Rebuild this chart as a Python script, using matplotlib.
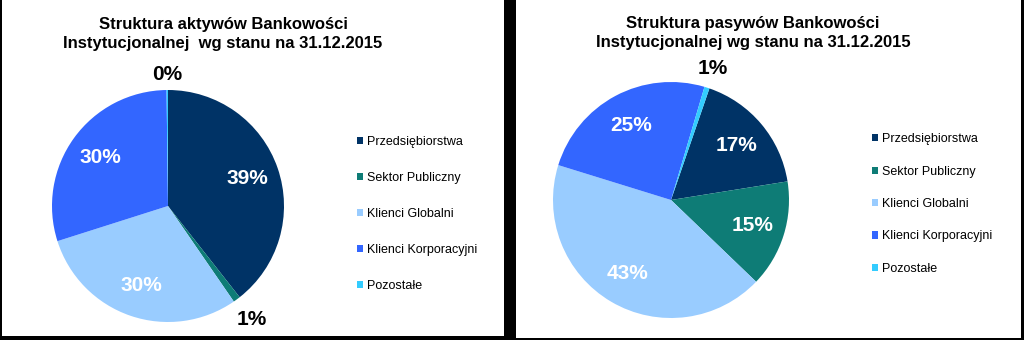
import numpy as np
import matplotlib
matplotlib.use("Agg")
import matplotlib.pyplot as plt
from matplotlib.patches import Rectangle

plt.rcParams['font.family'] = ['Liberation Sans', 'DejaVu Sans']

categories = ['Przedsiębiorstwa', 'Sektor Publiczny', 'Klienci Globalni',
              'Klienci Korporacyjni', 'Pozostałe']
aktywa = [39.4, 1.0, 29.7, 29.7, 0.2]
pasywa = [17.2, 14.7, 42.6, 24.8, 0.7]
title_aktywa = 'Struktura aktywów Bankowości\nInstytucjonalnej  wg stanu na 31.12.2015'
title_pasywa = 'Struktura pasywów Bankowości\nInstytucjonalnej wg stanu na 31.12.2015'

colors = ['#003366', '#0E7C76', '#99CCFF', '#3366FF', '#33CCFF']

W, H = 1024, 340
fig = plt.figure(figsize=(W / 100, H / 100), dpi=100, facecolor='black')

# white panels on black background
fig.patches.append(Rectangle((2 / W, 1 - 336 / H), 502 / W, 336 / H,
                             transform=fig.transFigure, facecolor='white', zorder=-5))
fig.patches.append(Rectangle((516 / W, 1 - 338 / H), 505 / W, 338 / H,
                             transform=fig.transFigure, facecolor='white', zorder=-5))


def draw_pie(values, cx, cy, r, start, title, tx, ty, lx, ly, spacing, inner, outer):
    ax = fig.add_axes([(cx - r) / W, 1 - (cy + r) / H, 2 * r / W, 2 * r / H])
    ax.set_zorder(2)
    wedges, _ = ax.pie(values, colors=colors, startangle=start, counterclock=False,
                       radius=1, wedgeprops=dict(linewidth=0))
    ax.set_xlim(-1, 1)
    ax.set_ylim(-1, 1)
    ax.set_aspect('auto')
    ax.axis('off')
    for w, v, d_out in zip(wedges, values, outer):
        mid = np.deg2rad((w.theta1 + w.theta2) / 2)
        if v >= 5:
            d, c = inner, 'white'
        else:
            d, c = d_out, 'black'
        ax.text(d * np.cos(mid), d * np.sin(mid), '%d%%' % round(v),
                ha='center', va='center', color=c, fontsize=15,
                fontweight='bold', clip_on=False)
    fig.text(tx / W, 1 - ty / H, title, ha='center', va='center',
             fontsize=12, fontweight='bold', linespacing=1.4)
    leg = fig.legend(wedges, categories, loc='center left',
                     bbox_to_anchor=(lx / W, 1 - ly / H), frameon=False,
                     fontsize=9, handlelength=0.5, handleheight=0.5,
                     handletextpad=0.3, labelspacing=spacing, borderpad=0,
                     borderaxespad=0)
    leg.set_zorder(3)


draw_pie(aktywa, 168, 206, 116, 90, title_aktywa, 223, 34, 357, 214, 1.92, 0.72,
         [1.17, 1.22, 1.17, 1.17, 1.13])
draw_pie(pasywa, 671, 200, 118, 71, title_pasywa, 753, 33, 872, 204, 1.63, 0.72,
         [1.17, 1.17, 1.17, 1.17, 1.17])

fig.savefig('out.png', dpi=100, facecolor=fig.get_facecolor())
